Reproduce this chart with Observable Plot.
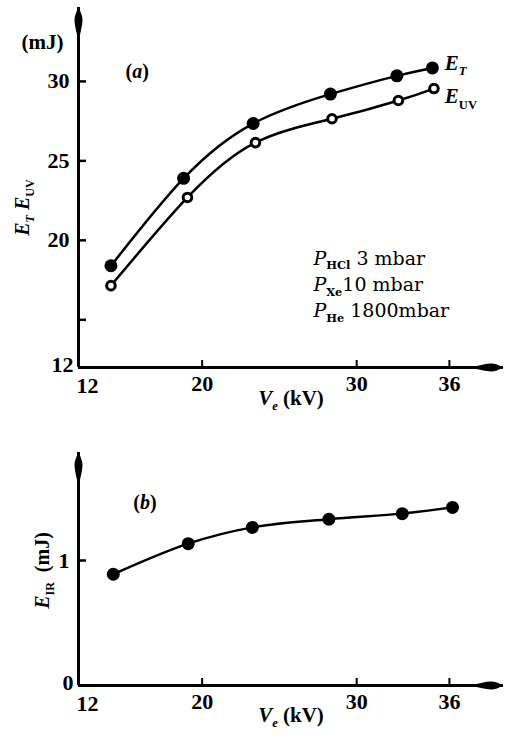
<!DOCTYPE html>
<html><head><meta charset="utf-8">
<script src="https://cdn.jsdelivr.net/npm/d3@7"></script>
<script src="https://cdn.jsdelivr.net/npm/@observablehq/plot@0.6"></script>
<style>
body{margin:0;background:#fff;}
#chart{width:507px;}
#chart svg{display:block;}
</style></head><body><div id="chart"></div>
<script>
// ---------- Panel (a): E_T and E_UV vs charging voltage ----------
const voltageT = [14.1, 18.8, 23.3, 28.3, 32.6, 34.9];
const energyT = [18.4, 23.9, 27.35, 29.2, 30.35, 30.85];
const voltageUV = [14.1, 19.05, 23.45, 28.4, 32.7, 35.0];
const energyUV = [17.15, 22.7, 26.15, 27.65, 28.8, 29.55];
// ---------- Panel (b): E_IR vs charging voltage ----------
const voltageIR = [14.25, 19.1, 23.25, 28.2, 32.95, 36.2];
const energyIR = [0.89, 1.135, 1.265, 1.33, 1.375, 1.425];
// ---------- Ticks ----------
const xTicks = [20, 30, 36];
const xOriginLabel = "12";
const yTicksA = [20, 25, 30];
const yMinorTicksA = [15];
const yOriginLabelA = "12";
const yTicksB = [1];
const yOriginLabelB = "0";
const xDomain = [12, 39.5];
const yDomainA = [12, 34.65];
const yDomainB = [0, 1.864];
// ---------- Texts ----------
const pressureLines = ["*P*_{HCl} 3 mbar", "*P*_{Xe}10 mbar", "*P*_{He} 1800mbar"];
const pressureY = [18.86, 17.2, 15.55];
const pressureX = 27.2;

const FONT = "Liberation Serif";
const rowsT = voltageT.map((v, i) => ({v, e: energyT[i]}));
const rowsUV = voltageUV.map((v, i) => ({v, e: energyUV[i]}));
const rowsIR = voltageIR.map((v, i) => ({v, e: energyIR[i]}));

// spindle-shaped arrow head, tip at (0,0), body toward +y
const spindle = {draw(ctx) {
  ctx.moveTo(0, 0);
  ctx.bezierCurveTo(2.5, 5, 4.2, 9, 4, 13);
  ctx.bezierCurveTo(3.8, 18, 2.5, 22, 1.6, 27);
  ctx.lineTo(-1.6, 27);
  ctx.bezierCurveTo(-2.5, 22, -3.8, 18, -4, 13);
  ctx.bezierCurveTo(-4.2, 9, -2.5, 5, 0, 0);
  ctx.closePath();
}};

const TICK_FS = 22;
function axesMarks(yDomain, yTicks, yMinor, yOrigin) {
  return [
    Plot.ruleX([{x: xDomain[0], y1: yDomain[0], y2: yDomain[1]}], {x: "x", y1: "y1", y2: "y2", strokeWidth: 3}),
    Plot.ruleY([{y: yDomain[0], x1: xDomain[0], x2: xDomain[1]}], {y: "y", x1: "x1", x2: "x2", strokeWidth: 3}),
    Plot.dot([{x: xDomain[0], y: yDomain[1]}], {x: "x", y: "y", symbol: spindle, fill: "black", stroke: null}),
    Plot.dot([{x: xDomain[1], y: yDomain[0]}], {x: "x", y: "y", symbol: spindle, fill: "black", stroke: null, rotate: 90}),
    Plot.axisX({ticks: xTicks, tickSize: -7, tickFormat: () => "", strokeWidth: 2, label: null}),
    Plot.axisX({ticks: xTicks, tickSize: 0, tickPadding: 8, tickFormat: d3.format("d"), fontSize: TICK_FS, fontWeight: "bold", fontFamily: FONT, label: null}),
    Plot.axisY({ticks: [...yMinor, ...yTicks], tickSize: -8, tickFormat: () => "", strokeWidth: 2.5, label: null}),
    Plot.axisY({ticks: yTicks, tickSize: 0, tickPadding: 9, tickFormat: d3.format("d"), fontSize: TICK_FS, fontWeight: "bold", fontFamily: FONT, label: null}),
    Plot.text([{x: xDomain[0], y: yDomain[0], t: xOriginLabel}], {x: "x", y: "y", text: "t", dx: 9, dy: 18, fontSize: TICK_FS, fontWeight: "bold"}),
    Plot.text([{x: xDomain[0], y: yDomain[0], t: yOrigin}], {x: "x", y: "y", text: "t", dx: -5, dy: -3, textAnchor: "end", fontSize: TICK_FS, fontWeight: "bold"})
  ];
}

const chartA = Plot.plot({
  width: 507, height: 420,
  marginLeft: 78, marginRight: 4, marginTop: 7, marginBottom: 53,
  style: {fontFamily: FONT, background: "white", color: "black"},
  x: {domain: xDomain, label: null},
  y: {domain: yDomainA, label: null},
  marks: [
    ...axesMarks(yDomainA, yTicksA, yMinorTicksA, yOriginLabelA),
    Plot.line(rowsT, {x: "v", y: "e", curve: "natural", strokeWidth: 2.5}),
    Plot.line(rowsUV, {x: "v", y: "e", curve: "natural", strokeWidth: 2.5}),
    Plot.dot(rowsT, {x: "v", y: "e", r: 6.5, fill: "black"}),
    Plot.dot(rowsUV, {x: "v", y: "e", r: 4.3, fill: "white", stroke: "black", strokeWidth: 3}),
    Plot.text([{x: 12, y: 32.44, t: "(mJ)"}], {x: "x", y: "y", text: "t", dx: -36, fontSize: 21, fontWeight: "bold"}),
    Plot.text([{x: 15.8, y: 30.6, t: "(*a*)"}], {x: "x", y: "y", text: "t", fontSize: 20, fontWeight: "bold"}),
    Plot.text([{x: 35.7, y: 31.15, t: "*E*_{*T*}"}], {x: "x", y: "y", text: "t", textAnchor: "start", fontSize: 21, fontWeight: "bold"}),
    Plot.text([{x: 35.7, y: 29.05, t: "*E*_{UV}"}], {x: "x", y: "y", text: "t", textAnchor: "start", fontSize: 21, fontWeight: "bold"}),
    Plot.text(pressureLines, {x: () => pressureX, y: (d, i) => pressureY[i], text: d => d, textAnchor: "start", fontSize: 19, fontFamily: "DejaVu Serif"}),
    Plot.text([{x: 12, y: 22.06, t: "*E*_{*T*} *E*_{UV}"}], {x: "x", y: "y", text: "t", dx: -56, rotate: -90, fontSize: 20, fontWeight: "bold"}),
    Plot.text(["*V*_{*e*} (kV)"], {frameAnchor: "bottom", text: d => d, dy: 37, fontSize: 21, fontWeight: "bold"})
  ]
});

const chartB = Plot.plot({
  width: 507, height: 315,
  marginLeft: 78, marginRight: 4, marginTop: 32, marginBottom: 50,
  style: {fontFamily: FONT, background: "white", color: "black"},
  x: {domain: xDomain, label: null},
  y: {domain: yDomainB, label: null},
  marks: [
    ...axesMarks(yDomainB, yTicksB, [], yOriginLabelB),
    Plot.line(rowsIR, {x: "v", y: "e", curve: "catmull-rom", strokeWidth: 2.5}),
    Plot.dot(rowsIR, {x: "v", y: "e", r: 6.5, fill: "black"}),
    Plot.text([{x: 16.3, y: 1.46, t: "(*b*)"}], {x: "x", y: "y", text: "t", fontSize: 20, fontWeight: "bold"}),
    Plot.text([{x: 12, y: 0.92, t: "*E*_{IR}  (mJ)"}], {x: "x", y: "y", text: "t", dx: -36, rotate: -90, fontSize: 20, fontWeight: "bold"}),
    Plot.text(["*V*_{*e*} (kV)"], {frameAnchor: "bottom", text: d => d, dy: 36, fontSize: 21, fontWeight: "bold"})
  ]
});

const root = document.getElementById("chart");
root.appendChild(chartA);
root.appendChild(chartB);

// rich text: *italic*, _{subscript}
const NS = "http://www.w3.org/2000/svg";
function applyRich(svg) {
  svg.querySelectorAll("text").forEach(t => {
    const s = t.textContent;
    if (!/[*]|_\{/.test(s)) return;
    const fs = parseFloat(getComputedStyle(t).fontSize) || 20;
    t.textContent = "";
    let shifted = 0;
    s.split(/(_\{[^}]*\})/).forEach(p => {
      if (!p) return;
      const sub = p.startsWith("_{");
      const str = sub ? p.slice(2, -1) : p;
      str.split(/(\*[^*]*\*)/).forEach(q => {
        if (!q) return;
        const ts = document.createElementNS(NS, "tspan");
        const it = q.startsWith("*");
        ts.textContent = it ? q.slice(1, -1) : q;
        if (it) ts.setAttribute("font-style", "italic");
        if (sub) { ts.setAttribute("font-size", (fs * 0.6).toFixed(1)); ts.setAttribute("font-weight", "bold"); }
        const target = sub ? fs * 0.25 : 0;
        if (target !== shifted) { ts.setAttribute("dy", (target - shifted).toFixed(1)); shifted = target; }
        t.appendChild(ts);
      });
    });
  });
}
applyRich(chartA);
applyRich(chartB);
</script></body></html>
